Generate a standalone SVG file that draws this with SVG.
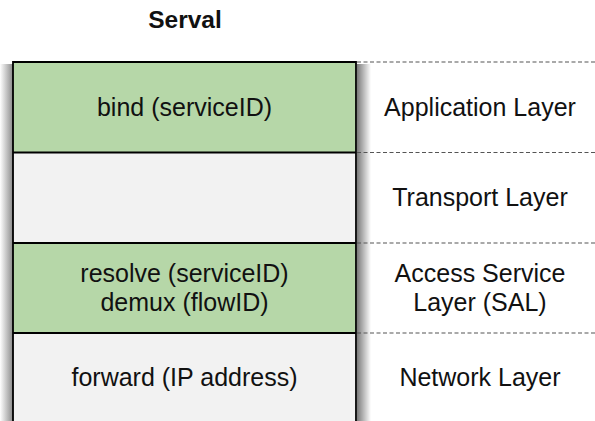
<svg xmlns="http://www.w3.org/2000/svg" width="595" height="421" viewBox="0 0 595 421">
  <defs>
    <linearGradient id="shadeLeft" x1="0" y1="0" x2="1" y2="0">
      <stop offset="0" stop-color="#ffffff"/>
      <stop offset="1" stop-color="#8a8a8a"/>
    </linearGradient>
    <linearGradient id="shadeRight" x1="0" y1="0" x2="1" y2="0">
      <stop offset="0" stop-color="#7a7a7a"/>
      <stop offset="1" stop-color="#ffffff"/>
    </linearGradient>
  </defs>
  <style>
    text { font-family: "Liberation Sans", Arial, sans-serif; font-size: 25px; fill: #111; text-anchor: middle; }
    .title { font-weight: bold; font-size: 24.5px; }
    .green { fill: #b6d7a8; }
    .grey { fill: #f2f2f2; }
    .rule { stroke: #000; stroke-width: 1.8; fill: none; }
    .dash { stroke: #555; stroke-width: 1.2; stroke-dasharray: 4 2.5; fill: none; }
  </style>

  <rect width="595" height="421" fill="#ffffff"/>

  <text class="title" x="185" y="28">Serval</text>

  <!-- soft shadows on both sides of the stack -->
  <rect x="0" y="64" width="13" height="357" fill="url(#shadeLeft)"/>
  <rect x="357" y="64" width="14" height="357" fill="url(#shadeRight)"/>

  <!-- layer stack -->
  <g id="layer-application">
    <rect class="green" x="13" y="62" width="343" height="90.5"/>
    <text x="184.5" y="116">bind (serviceID)</text>
  </g>
  <g id="layer-transport">
    <rect class="grey" x="13" y="152.5" width="343" height="90.5"/>
  </g>
  <g id="layer-sal">
    <rect class="green" x="13" y="243" width="343" height="90"/>
    <text x="184.5" y="282">resolve (serviceID)</text>
    <text x="184.5" y="311">demux (flowID)</text>
  </g>
  <g id="layer-network">
    <rect class="grey" x="13" y="333" width="343" height="90"/>
    <text x="184.5" y="386">forward (IP address)</text>
  </g>

  <!-- stack outline and dividers -->
  <g id="outline">
    <path class="rule" d="M13,423 V62 H356 V423"/>
    <line class="rule" x1="13" y1="152.5" x2="356" y2="152.5"/>
    <line class="rule" x1="13" y1="243" x2="356" y2="243"/>
    <line class="rule" x1="13" y1="333" x2="356" y2="333"/>
  </g>

  <!-- dashed layer boundaries -->
  <g id="connectors">
    <line class="dash" x1="357" y1="62" x2="595" y2="62"/>
    <line class="dash" x1="357" y1="152.5" x2="595" y2="152.5"/>
    <line class="dash" x1="357" y1="243" x2="595" y2="243"/>
    <line class="dash" x1="357" y1="333" x2="595" y2="333"/>
  </g>

  <!-- layer names -->
  <g id="label-application"><text x="480" y="116">Application Layer</text></g>
  <g id="label-transport"><text x="480" y="206">Transport Layer</text></g>
  <g id="label-sal">
    <text x="480" y="282">Access Service</text>
    <text x="480" y="311">Layer (SAL)</text>
  </g>
  <g id="label-network"><text x="480" y="386">Network Layer</text></g>
</svg>
